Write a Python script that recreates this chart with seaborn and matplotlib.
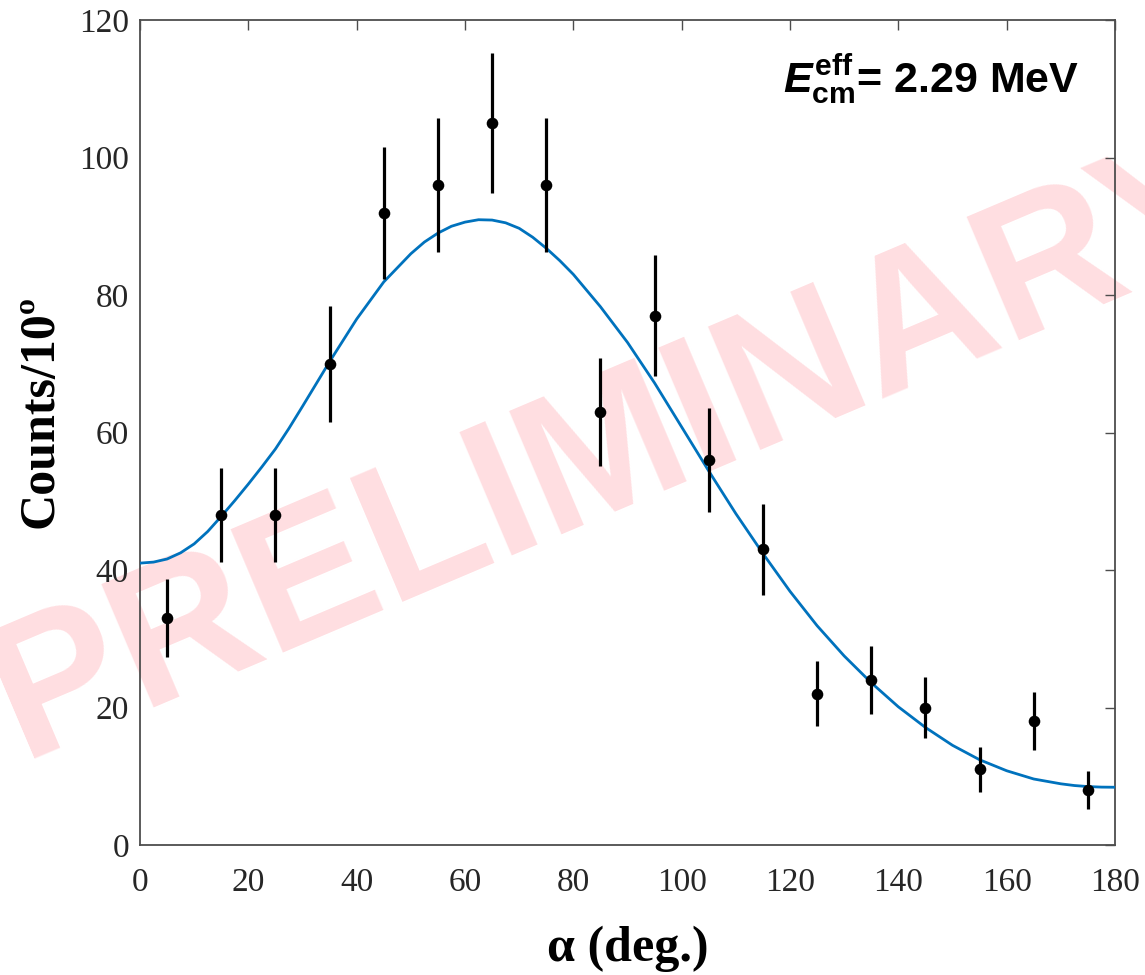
import numpy as np
import pandas as pd
import matplotlib
matplotlib.use("Agg")
import matplotlib.pyplot as plt
import seaborn as sns

# ---- data ----
angles = [5, 15, 25, 35, 45, 55, 65, 75, 85, 95, 105, 115, 125, 135, 145, 155, 165, 175]
counts = [33, 48, 48, 70, 92, 96, 105, 96, 63, 77, 56, 43, 22, 24, 20, 11, 18, 8]
errors = [5.7, 6.9, 6.9, 8.4, 9.6, 9.8, 10.2, 9.8, 7.9, 8.8, 7.5, 6.6, 4.7, 4.9, 4.5, 3.3, 4.2, 2.8]

fit_angles = [0, 2.5, 5, 7.5, 10, 12.5, 15, 17.5, 20, 22.5, 25, 27.5, 30, 35, 40, 45, 50,
              52.5, 55, 57.5, 60, 62.5, 65, 67.5, 70, 72.5, 75, 77.5, 80, 85, 90, 95, 100,
              105, 110, 115, 120, 125, 130, 135, 140, 145, 150, 155, 160, 165, 170, 172.5,
              175, 177.5, 180]
fit_counts = [41.0, 41.15, 41.6, 42.5, 43.8, 45.6, 47.8, 50.1, 52.5, 55.0, 57.6, 60.6, 63.8,
              70.3, 76.5, 81.9, 86.0, 87.7, 89.0, 90.0, 90.6, 90.95, 90.9, 90.5, 89.7, 88.4,
              86.8, 85.0, 83.0, 78.3, 73.1, 67.2, 60.8, 54.4, 48.2, 42.4, 36.9, 31.9, 27.5,
              23.6, 20.1, 17.1, 14.5, 12.4, 10.8, 9.6, 8.9, 8.65, 8.5, 8.42, 8.4]

x_ticks = [0, 20, 40, 60, 80, 100, 120, 140, 160, 180]
y_ticks = [0, 20, 40, 60, 80, 100, 120]

x_label = "α (deg.)"
y_label = "Counts/10º"
annotation = r"$E_{\mathrm{cm}}^{\mathrm{eff}}$= 2.29 MeV"
watermark = "PRELIMINARY"

pts = pd.DataFrame({"angle": angles, "counts": counts, "err": errors})
fit = pd.DataFrame({"angle": fit_angles, "counts": fit_counts})

sns.set_theme(style="white")
plt.rcParams["font.family"] = ["Liberation Serif", "DejaVu Serif"]
plt.rcParams["mathtext.fontset"] = "custom"
plt.rcParams["mathtext.rm"] = "Liberation Sans:bold"
plt.rcParams["mathtext.it"] = "Liberation Sans:italic:bold"
plt.rcParams["mathtext.bf"] = "Liberation Sans:bold"

fig = plt.figure(figsize=(11.45, 9.75), dpi=100)
fig.patch.set_facecolor("white")
ax = fig.add_axes([140 / 1145, 130 / 975, 975 / 1145, 825 / 975])
ax.set_facecolor("none")

# watermark behind everything
fig.text(615 / 1145, 1 - 452 / 975, watermark, fontsize=140, fontweight="bold",
         family=["Liberation Sans"], color="#FFDEE1", rotation=23,
         ha="center", va="center", rotation_mode="anchor", zorder=-5)

blue = "#0072BD"
sns.lineplot(data=fit, x="angle", y="counts", ax=ax, color=blue, lw=2.0, zorder=3)
ax.errorbar(pts["angle"], pts["counts"], yerr=pts["err"], fmt="none",
            ecolor="black", elinewidth=2.3, capsize=0, zorder=4)
sns.scatterplot(data=pts, x="angle", y="counts", ax=ax, color="black", s=70,
                edgecolor="black", linewidth=0, zorder=5)

ax.set_xlim(0, 180)
ax.set_ylim(0, 120)
ax.set_xticks(x_ticks)
ax.set_yticks(y_ticks)

dark = "#262626"
for s in ax.spines.values():
    s.set_visible(True)
    s.set_color("#4d4d4d")
    s.set_linewidth(1.3)
ax.tick_params(direction="in", length=7.5, width=1.0, color="#4d4d4d",
               top=True, right=True, labelsize=24, labelcolor=dark)
ax.tick_params(axis="x", pad=16)
ax.tick_params(axis="y", pad=8)

ax.set_xlabel(x_label, fontsize=36, fontweight="bold", color="black")
ax.set_ylabel(y_label, fontsize=36, fontweight="bold", color="black")
ax.xaxis.set_label_coords(0.5, -0.098)
ax.yaxis.set_label_coords(-0.078, 0.525)

ax.text(0.963, 0.912, annotation, transform=ax.transAxes, ha="right", va="baseline",
        fontsize=31, fontweight="bold", family=["Liberation Sans"], color="black",
        zorder=6)

fig.savefig("out.png", dpi=100, facecolor="white")
